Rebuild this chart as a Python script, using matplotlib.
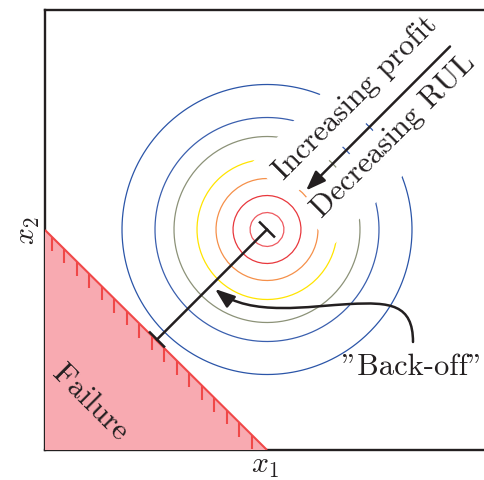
import numpy as np
import matplotlib.pyplot as plt
from matplotlib.patches import Polygon, FancyArrowPatch
from matplotlib.path import Path

plt.rcParams['mathtext.fontset'] = 'cm'
plt.rcParams['axes.formatter.use_mathtext'] = True

# Contour picture (units: pixels from lower left of the box)
center = (222, 220.5)
levels = [17, 34, 51, 70, 93, 112, 145]
level_colors = ['#EE5A60', '#E8383D', '#F5904A', '#FFE400', '#8C9278', '#3A5FAE', '#2B55A8']

# Failure region
failure_x = [0, 0, 222]
failure_y = [0, 220, 0]

# back-off segment from optimum to the failure boundary
backoff_x = [222, 112]
backoff_y = [220.5, 110.5]

# straight arrow (tail, tip)
arrow_tail = (405, 403.5)
arrow_tip = (261, 259.5)

# curved "Back-off" arrow (cubic bezier points)
curve_pts = [(368, 108), (368, 146), (345, 148), (305, 146),
             (265, 144), (205, 133), (170, 161)]

ink = '#231F20'

fig = plt.figure(figsize=(4.85, 4.81), dpi=100)
ax = fig.add_axes([45 / 485, 30 / 481, 440 / 485, 440 / 481])
ax.set_xlim(0, 440)
ax.set_ylim(0, 440)
ax.set_xticks([])
ax.set_yticks([])
ax.spines['right'].set_visible(False)
for s in ['left', 'top', 'bottom']:
    ax.spines[s].set_linewidth(1.7)
    ax.spines[s].set_color(ink)

# contours of a radial function
gx = np.linspace(0, 440, 90)
gy = np.linspace(0, 440, 90)
X, Y = np.meshgrid(gx, gy)
R = np.hypot(X - center[0], Y - center[1])
ax.contour(X, Y, R, levels=levels, colors=level_colors, linewidths=0.9, zorder=1)

# white masks behind the two labels
def uv(u, v):
    return (center[0] + (u - v) / np.sqrt(2), center[1] + (u + v) / np.sqrt(2))

for v0, v1 in [(5, 58), (-58, -5)]:
    ax.add_patch(Polygon([uv(36, v0), uv(175, v0), uv(175, v1), uv(36, v1)],
                         closed=True, facecolor='white', edgecolor='none', zorder=2))

# failure region with hatch ticks
ax.fill(failure_x, failure_y, color='#F8AAB1', zorder=3, lw=0)
ax.plot(failure_x[1:], failure_y[1:], color='#F04848', lw=1.5, zorder=4, solid_capstyle='butt')
slope = (failure_y[2] - failure_y[1]) / (failure_x[2] - failure_x[1])
for tx in np.arange(7, 210, 12.5):
    ty = failure_y[1] + slope * tx
    ax.plot([tx, tx], [ty, ty - 14], color='#F04848', lw=1.5, zorder=4, solid_capstyle='butt')

# back-off line with end caps
ax.plot(backoff_x, backoff_y, color=ink, lw=1.8, zorder=5)
cap = 10 / np.sqrt(2)
for bx, by in zip(backoff_x, backoff_y):
    ax.plot([bx - cap, bx + cap], [by + cap, by - cap], color=ink, lw=1.8, zorder=5)

head = '-|>,head_length=0.6,head_width=0.22'
# straight arrow
ax.add_patch(FancyArrowPatch(arrow_tail, arrow_tip, arrowstyle=head,
                             mutation_scale=20, color=ink, lw=1.8, zorder=6,
                             shrinkA=0, shrinkB=0))

# curved arrow
codes = [Path.MOVETO] + [Path.CURVE4] * 6
ax.add_patch(FancyArrowPatch(path=Path(curve_pts, codes), arrowstyle=head,
                             mutation_scale=20, color=ink, lw=1.8, zorder=6))

tfont = dict(family='cmr10', size=22, color=ink)
p = uv(47, 24)
ax.text(p[0], p[1], 'Increasing profit', rotation=45, rotation_mode='anchor',
        ha='left', va='baseline', zorder=7, **tfont)
p = uv(47, -30)
ax.text(p[0], p[1], 'Decreasing RUL', rotation=45, rotation_mode='anchor',
        ha='left', va='baseline', zorder=7, **tfont)
ax.text(45, 48, 'Failure', rotation=-45, rotation_mode='anchor',
        ha='center', va='center', zorder=7, **tfont)
ax.text(297, 76, '"Back-off"', ha='left', va='baseline', zorder=7, **tfont)

ax.set_xlabel(r'$x_1$', fontsize=21.5, color=ink, labelpad=0)
ax.set_ylabel(r'$x_2$', fontsize=21.5, color=ink, labelpad=2)

fig.savefig('out.png', dpi=100)
